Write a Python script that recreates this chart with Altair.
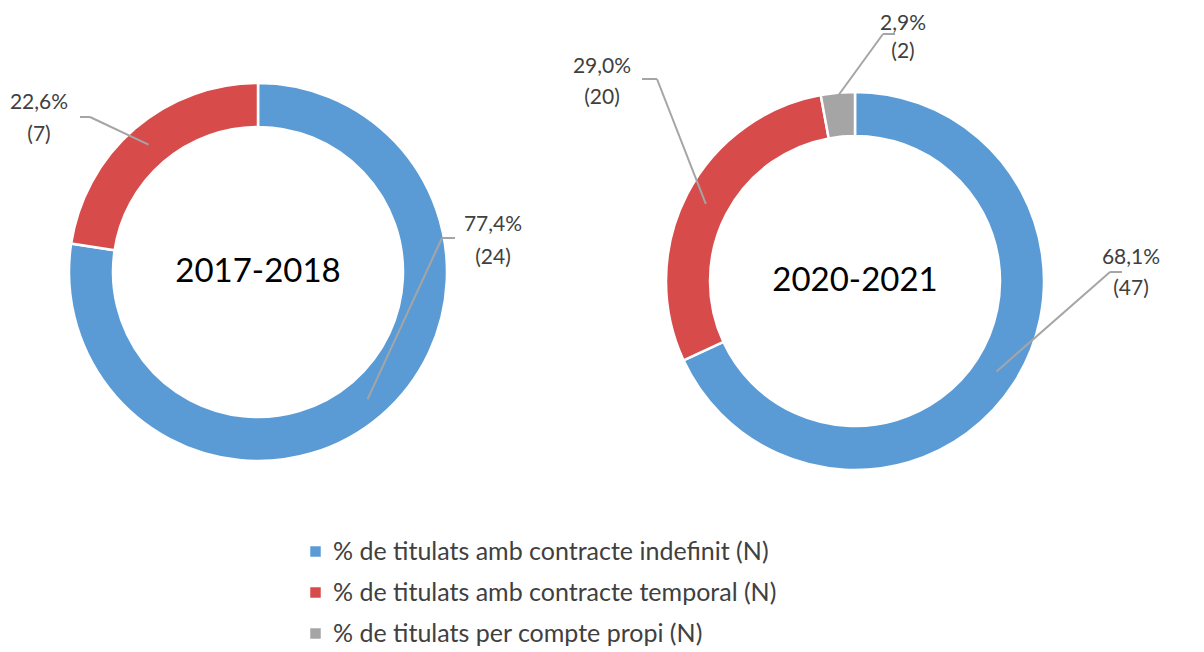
import altair as alt
import pandas as pd

# ---- data ----
periods = ["2017-2018", "2017-2018", "2020-2021", "2020-2021", "2020-2021"]
categories = ["% de titulats amb contracte indefinit (N)",
              "% de titulats amb contracte temporal (N)",
              "% de titulats amb contracte indefinit (N)",
              "% de titulats amb contracte temporal (N)",
              "% de titulats per compte propi (N)"]
pct = [77.4, 22.6, 68.1, 29.0, 2.9]
counts = [24, 7, 47, 20, 2]

legend_order = ["% de titulats amb contracte indefinit (N)",
                "% de titulats amb contracte temporal (N)",
                "% de titulats per compte propi (N)"]
colors = ["#5B9BD5", "#D74B4B", "#A5A5A5"]

# ---- layout (chart pixel coordinates) ----
W, H = 1188, 640
centers = {"2017-2018": (250, 264), "2020-2021": (847, 273)}
R_OUT, R_IN = 189, 145
# per label: elbow x/y, horizontal end x, text centre x, line1 y, line2 y, radius where leader ends
elbow_x = [434, 82, 1102, 649, 875]
elbow_y = [230, 109, 264, 71, 26]
hend_x = [447, 72, 1114, 634, 887]
text_x = [485, 31, 1123, 594, 895]
text_y1 = [217, 95, 250, 59, 16]
text_y2 = [250, 127, 281, 90, 44]
end_r = [168, 168, 168, 168, 186]

df = pd.DataFrame({
    "period": periods, "cat": categories, "pct": pct, "n": counts,
    "idx": list(range(len(pct))),
    "cx": [centers[p][0] for p in periods], "cy": [centers[p][1] for p in periods],
    "ex": elbow_x, "ey": elbow_y, "hx": hend_x,
    "tx": text_x, "ty1": text_y1, "ty2": text_y2, "er": end_r,
})

color = alt.Color("cat:N", scale=alt.Scale(domain=legend_order, range=colors),
                  sort=legend_order,
                  legend=alt.Legend(title=None, orient="none", legendX=295, legendY=531,
                                    symbolType="square", symbolSize=110, symbolStrokeWidth=0,
                                    labelFontSize=25, labelFont="Lato", labelColor="#404040",
                                    rowPadding=15, labelLimit=700, labelOffset=5))

base = alt.Chart(df)

arcs = []
for p, (cx, cy) in centers.items():
    arcs.append(
        base.transform_filter(alt.datum.period == p)
        .mark_arc(outerRadius=R_OUT, innerRadius=R_IN, stroke="white", strokeWidth=2.5)
        .encode(theta=alt.Theta("pct:Q", stack=True, scale=alt.Scale(domain=[0, 100])),
                color=color, order=alt.Order("idx:Q"),
                x=alt.value(cx), y=alt.value(cy))
    )

calc = (base
        .transform_window(cum="sum(pct)", groupby=["period"], sort=[alt.SortField("idx")])
        .transform_calculate(mid="(datum.cum - datum.pct/2)/100*2*PI")
        .transform_calculate(lx="datum.cx + datum.er*sin(datum.mid)",
                             ly="datum.cy - datum.er*cos(datum.mid)",
                             l1="replace(format(datum.pct, '.1f'), '.', ',') + '%'",
                             l2="'(' + datum.n + ')'"))

lead = calc.mark_rule(color="#A5A5A5", strokeWidth=2).encode(
    x=alt.X("ex:Q", scale=None), y=alt.Y("ey:Q", scale=None),
    x2="lx:Q", y2="ly:Q")
horiz = calc.mark_rule(color="#A5A5A5", strokeWidth=2).encode(
    x=alt.X("ex:Q", scale=None), y=alt.Y("ey:Q", scale=None),
    x2="hx:Q", y2="ey:Q")

t1 = calc.mark_text(font="Lato", fontSize=21, color="#404040", baseline="middle").encode(
    x=alt.X("tx:Q", scale=None), y=alt.Y("ty1:Q", scale=None), text="l1:N")
t2 = calc.mark_text(font="Lato", fontSize=21, color="#404040", baseline="middle").encode(
    x=alt.X("tx:Q", scale=None), y=alt.Y("ty2:Q", scale=None), text="l2:N")

center_df = pd.DataFrame({"period": list(centers.keys()),
                          "cx": [c[0] for c in centers.values()],
                          "cy": [c[1] for c in centers.values()]})
ctext = alt.Chart(center_df).mark_text(font="Lato", fontSize=33, color="#000000",
                                       baseline="middle").encode(
    x=alt.X("cx:Q", scale=None), y=alt.Y("cy:Q", scale=None), text="period:N")

chart = alt.layer(*arcs, lead, horiz, t1, t2, ctext).properties(
    width=W, height=H, autosize=alt.AutoSizeParams(type="none"), padding=0,
    background="white"
).configure_view(stroke=None, strokeWidth=0)

chart.save("out.html", embed_options={"renderer": "svg", "actions": False})
